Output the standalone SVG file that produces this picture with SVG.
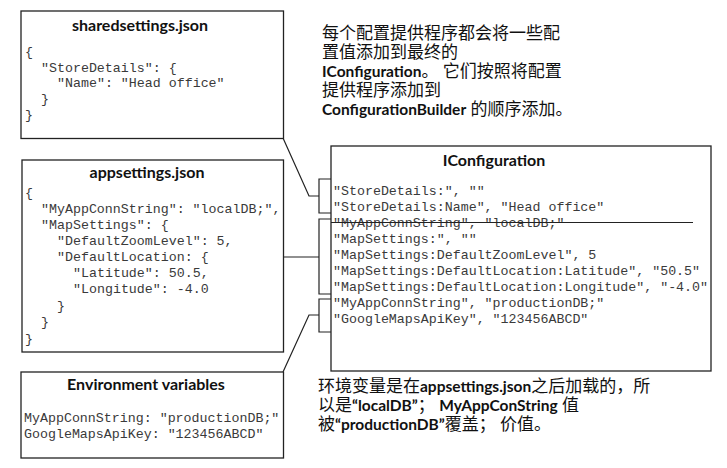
<svg xmlns="http://www.w3.org/2000/svg" width="727" height="468" viewBox="0 0 727 468">
<style>
.box{fill:#fff;stroke:#222;stroke-width:1.3}
.ln{fill:none;stroke:#222;stroke-width:1.2}
.title{font-family:"Lato","Liberation Sans",sans-serif;font-weight:bold;font-size:16px;fill:#111;text-anchor:middle}
.code{font-family:"Liberation Mono","DejaVu Sans Mono",monospace;font-size:13.3px;fill:#3a3a3a;white-space:pre}
.note{font-family:"Lato","Noto Sans CJK SC",sans-serif;font-size:17px;fill:#111}
.b{font-weight:bold;font-size:15.5px}
</style>
<rect width="727" height="468" fill="#fff"/>
<g id="sharedsettings">
<rect class="box" x="21" y="11" width="262.5" height="127.5"/>
<text class="title" x="140" y="31">sharedsettings.json</text>
<text class="code" x="25" y="56">{</text>
<text class="code" x="41" y="72">"StoreDetails": {</text>
<text class="code" x="57" y="87">"Name": "Head office"</text>
<text class="code" x="41" y="103">}</text>
<text class="code" x="25" y="119">}</text>
</g>
<g id="appsettings">
<rect class="box" x="22" y="160" width="261.5" height="192"/>
<text class="title" x="147" y="178">appsettings.json</text>
<text class="code" x="25" y="197">{</text>
<text class="code" x="41" y="213">"MyAppConnString": "localDB;",</text>
<text class="code" x="41" y="229">"MapSettings": {</text>
<text class="code" x="57" y="245">"DefaultZoomLevel": 5,</text>
<text class="code" x="57" y="261">"DefaultLocation: {</text>
<text class="code" x="73" y="277">"Latitude": 50.5,</text>
<text class="code" x="73" y="293">"Longitude": -4.0</text>
<text class="code" x="57" y="310">}</text>
<text class="code" x="41" y="326">}</text>
<text class="code" x="25" y="343">}</text>
</g>
<g id="environment">
<rect class="box" x="21" y="372" width="262.5" height="86"/>
<text class="title" x="146" y="390">Environment variables</text>
<text class="code" x="24" y="422">MyAppConnString: "productionDB;"</text>
<text class="code" x="24" y="438">GoogleMapsApiKey: "123456ABCD"</text>
</g>
<g id="iconfiguration">
<rect class="box" x="331" y="146" width="380" height="225"/>
<text class="title" x="494" y="166">IConfiguration</text>
<text class="code" x="333" y="195">"StoreDetails:", ""</text>
<text class="code" x="333" y="211">"StoreDetails:Name", "Head office"</text>
<text class="code" x="333" y="227">"MyAppConnString", "localDB;"</text>
<text class="code" x="333" y="243">"MapSettings:", ""</text>
<text class="code" x="333" y="259">"MapSettings:DefaultZoomLevel", 5</text>
<text class="code" x="333" y="275">"MapSettings:DefaultLocation:Latitude", "50.5"</text>
<text class="code" x="333" y="291">"MapSettings:DefaultLocation:Longitude", "-4.0"</text>
<text class="code" x="333" y="307">"MyAppConnString", "productionDB;"</text>
<text class="code" x="333" y="323">"GoogleMapsApiKey", "123456ABCD"</text>
<line class="ln" x1="331" y1="222.5" x2="693" y2="222.5"/>
</g>
<g id="note-top">
<text class="note" x="322" y="39">每个配置提供程序都会将一些配</text>
<text class="note" x="322" y="58">置值添加到最终的</text>
<text class="note" x="322" y="77"><tspan class="b">IConfiguration</tspan>。 它们按照将配置</text>
<text class="note" x="322" y="96">提供程序添加到</text>
<text class="note" x="322" y="115"><tspan class="b">ConfigurationBuilder</tspan> 的顺序添加。</text>
</g>
<g id="note-bottom">
<text class="note" x="318" y="392">环境变量是在<tspan class="b">appsettings.json</tspan>之后加载的，所</text>
<text class="note" x="318" y="411">以是<tspan class="b">“localDB”</tspan>； <tspan class="b">MyAppConString</tspan> 值</text>
<text class="note" x="318" y="430">被<tspan class="b">“productionDB”</tspan>覆盖； 价值。</text>
</g>
<g id="connectors">
<polyline class="ln" points="283,138 309,196 319,196"/>
<polyline class="ln" points="331,179 319,179 319,213 331,213"/>
<line class="ln" x1="283" y1="257" x2="319" y2="257"/>
<polyline class="ln" points="331,219 319,219 319,294 331,294"/>
<polyline class="ln" points="283,372 309,315 319,315"/>
<polyline class="ln" points="331,299 319,299 319,332 331,332"/>
</g>
</svg>
